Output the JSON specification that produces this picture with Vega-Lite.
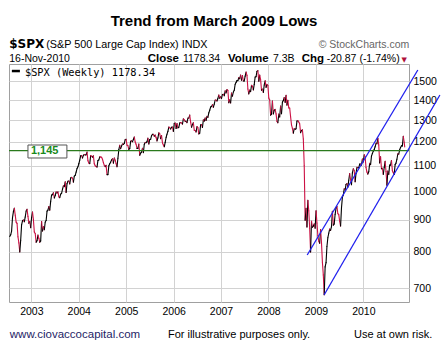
{
  "$schema": "https://vega.github.io/schema/vega-lite/v6.json",
  "width": 400,
  "height": 238,
  "autosize": {"type": "none"},
  "padding": {"left": 9, "top": 64, "right": 39, "bottom": 61},
  "background": "white",
  "title": {"text": "Trend from March 2009 Lows", "font": "Liberation Sans", "fontSize": 15, "fontWeight": "bold", "color": "#000000", "anchor": "middle", "frame": "group", "offset": 9, "dx": 5},
  "config": {
    "view": {"stroke": "#a0a0a0", "strokeWidth": 1},
    "axis": {"titleOpacity": 0, "labelFont": "Liberation Sans", "labelFontSize": 10.5, "labelColor": "#000000", "gridColor": "#d2d2d2", "gridWidth": 1, "ticks": false, "domain": false, "labelOverlap": false, "labelFlush": false}
  },
  "datasets": {
    "spx": [
      {"d":"2002-07-19","c":847},{"d":"2002-07-26","c":852},{"d":"2002-08-02","c":864},{"d":"2002-08-09","c":908},{"d":"2002-08-16","c":928},{"d":"2002-08-23","c":940},{"d":"2002-08-30","c":916},{"d":"2002-09-06","c":893},{"d":"2002-09-13","c":889},{"d":"2002-09-20","c":846},{"d":"2002-09-27","c":827},{"d":"2002-10-04","c":800},{"d":"2002-10-11","c":835},{"d":"2002-10-18","c":884},{"d":"2002-10-25","c":897},{"d":"2002-11-01","c":900},{"d":"2002-11-08","c":894},{"d":"2002-11-15","c":910},{"d":"2002-11-22","c":930},{"d":"2002-11-29","c":936},{"d":"2002-12-06","c":912},{"d":"2002-12-13","c":889},{"d":"2002-12-20","c":895},{"d":"2002-12-27","c":875},
      {"d":"2003-01-03","c":908},{"d":"2003-01-10","c":927},{"d":"2003-01-17","c":901},{"d":"2003-01-24","c":861},{"d":"2003-01-31","c":856},{"d":"2003-02-07","c":829},{"d":"2003-02-14","c":834},{"d":"2003-02-21","c":851},{"d":"2003-02-28","c":841},{"d":"2003-03-07","c":829},{"d":"2003-03-14","c":833},{"d":"2003-03-21","c":895},{"d":"2003-03-28","c":864},{"d":"2003-04-04","c":878},{"d":"2003-04-11","c":868},{"d":"2003-04-18","c":893},{"d":"2003-04-25","c":898},{"d":"2003-05-02","c":930},{"d":"2003-05-09","c":933},{"d":"2003-05-16","c":946},{"d":"2003-05-23","c":933},{"d":"2003-05-30","c":964},{"d":"2003-06-06","c":987},{"d":"2003-06-13","c":988},{"d":"2003-06-20","c":995},{"d":"2003-06-27","c":976},{"d":"2003-07-04","c":985},{"d":"2003-07-11","c":998},{"d":"2003-07-18","c":994},{"d":"2003-07-25","c":998},{"d":"2003-08-01","c":980},{"d":"2003-08-08","c":977},{"d":"2003-08-15","c":990},{"d":"2003-08-22","c":993},{"d":"2003-08-29","c":1008},{"d":"2003-09-05","c":1021},{"d":"2003-09-12","c":1018},{"d":"2003-09-19","c":1036},{"d":"2003-09-26","c":996},{"d":"2003-10-03","c":1029},{"d":"2003-10-10","c":1038},{"d":"2003-10-17","c":1039},{"d":"2003-10-24","c":1028},{"d":"2003-10-31","c":1051},{"d":"2003-11-07","c":1053},{"d":"2003-11-14","c":1050},{"d":"2003-11-21","c":1035},{"d":"2003-11-28","c":1058},{"d":"2003-12-05","c":1061},{"d":"2003-12-12","c":1074},{"d":"2003-12-19","c":1088},{"d":"2003-12-26","c":1095},
      {"d":"2004-01-02","c":1108},{"d":"2004-01-09","c":1122},{"d":"2004-01-16","c":1140},{"d":"2004-01-23","c":1141},{"d":"2004-01-30","c":1131},{"d":"2004-02-06","c":1142},{"d":"2004-02-13","c":1146},{"d":"2004-02-20","c":1144},{"d":"2004-02-27","c":1145},{"d":"2004-03-05","c":1156},{"d":"2004-03-12","c":1120},{"d":"2004-03-19","c":1110},{"d":"2004-03-26","c":1108},{"d":"2004-04-02","c":1141},{"d":"2004-04-09","c":1139},{"d":"2004-04-16","c":1135},{"d":"2004-04-23","c":1140},{"d":"2004-04-30","c":1107},{"d":"2004-05-07","c":1099},{"d":"2004-05-14","c":1096},{"d":"2004-05-21","c":1094},{"d":"2004-05-28","c":1121},{"d":"2004-06-04","c":1123},{"d":"2004-06-11","c":1136},{"d":"2004-06-18","c":1135},{"d":"2004-06-25","c":1134},{"d":"2004-07-02","c":1126},{"d":"2004-07-09","c":1112},{"d":"2004-07-16","c":1101},{"d":"2004-07-23","c":1096},{"d":"2004-07-30","c":1101},{"d":"2004-08-06","c":1064},{"d":"2004-08-13","c":1064},{"d":"2004-08-20","c":1099},{"d":"2004-08-27","c":1107},{"d":"2004-09-03","c":1114},{"d":"2004-09-10","c":1123},{"d":"2004-09-17","c":1128},{"d":"2004-09-24","c":1110},{"d":"2004-10-01","c":1131},{"d":"2004-10-08","c":1122},{"d":"2004-10-15","c":1108},{"d":"2004-10-22","c":1095},{"d":"2004-10-29","c":1130},{"d":"2004-11-05","c":1167},{"d":"2004-11-12","c":1185},{"d":"2004-11-19","c":1171},{"d":"2004-11-26","c":1182},{"d":"2004-12-03","c":1191},{"d":"2004-12-10","c":1189},{"d":"2004-12-17","c":1194},{"d":"2004-12-24","c":1210},{"d":"2004-12-31","c":1212},
      {"d":"2005-01-07","c":1186},{"d":"2005-01-14","c":1184},{"d":"2005-01-21","c":1168},{"d":"2005-01-28","c":1171},{"d":"2005-02-04","c":1203},{"d":"2005-02-11","c":1205},{"d":"2005-02-18","c":1201},{"d":"2005-02-25","c":1211},{"d":"2005-03-04","c":1222},{"d":"2005-03-11","c":1200},{"d":"2005-03-18","c":1190},{"d":"2005-03-25","c":1172},{"d":"2005-04-01","c":1172},{"d":"2005-04-08","c":1191},{"d":"2005-04-15","c":1143},{"d":"2005-04-22","c":1152},{"d":"2005-04-29","c":1156},{"d":"2005-05-06","c":1172},{"d":"2005-05-13","c":1154},{"d":"2005-05-20","c":1190},{"d":"2005-05-27","c":1198},{"d":"2005-06-03","c":1197},{"d":"2005-06-10","c":1201},{"d":"2005-06-17","c":1217},{"d":"2005-06-24","c":1191},{"d":"2005-07-01","c":1211},{"d":"2005-07-08","c":1212},{"d":"2005-07-15","c":1228},{"d":"2005-07-22","c":1234},{"d":"2005-07-29","c":1234},{"d":"2005-08-05","c":1226},{"d":"2005-08-12","c":1231},{"d":"2005-08-19","c":1220},{"d":"2005-08-26","c":1205},{"d":"2005-09-02","c":1218},{"d":"2005-09-09","c":1241},{"d":"2005-09-16","c":1237},{"d":"2005-09-23","c":1215},{"d":"2005-09-30","c":1229},{"d":"2005-10-07","c":1196},{"d":"2005-10-14","c":1187},{"d":"2005-10-21","c":1179},{"d":"2005-10-28","c":1198},{"d":"2005-11-04","c":1220},{"d":"2005-11-11","c":1235},{"d":"2005-11-18","c":1248},{"d":"2005-11-25","c":1268},{"d":"2005-12-02","c":1265},{"d":"2005-12-09","c":1259},{"d":"2005-12-16","c":1267},{"d":"2005-12-23","c":1268},{"d":"2005-12-30","c":1248},
      {"d":"2006-01-06","c":1285},{"d":"2006-01-13","c":1287},{"d":"2006-01-20","c":1261},{"d":"2006-01-27","c":1284},{"d":"2006-02-03","c":1264},{"d":"2006-02-10","c":1267},{"d":"2006-02-17","c":1287},{"d":"2006-02-24","c":1289},{"d":"2006-03-03","c":1287},{"d":"2006-03-10","c":1282},{"d":"2006-03-17","c":1307},{"d":"2006-03-24","c":1302},{"d":"2006-03-31","c":1295},{"d":"2006-04-07","c":1295},{"d":"2006-04-14","c":1289},{"d":"2006-04-21","c":1311},{"d":"2006-04-28","c":1310},{"d":"2006-05-05","c":1325},{"d":"2006-05-12","c":1291},{"d":"2006-05-19","c":1267},{"d":"2006-05-26","c":1280},{"d":"2006-06-02","c":1288},{"d":"2006-06-09","c":1253},{"d":"2006-06-16","c":1252},{"d":"2006-06-23","c":1245},{"d":"2006-06-30","c":1270},{"d":"2006-07-07","c":1265},{"d":"2006-07-14","c":1236},{"d":"2006-07-21","c":1240},{"d":"2006-07-28","c":1278},{"d":"2006-08-04","c":1280},{"d":"2006-08-11","c":1266},{"d":"2006-08-18","c":1302},{"d":"2006-08-25","c":1296},{"d":"2006-09-01","c":1311},{"d":"2006-09-08","c":1299},{"d":"2006-09-15","c":1319},{"d":"2006-09-22","c":1314},{"d":"2006-09-29","c":1336},{"d":"2006-10-06","c":1349},{"d":"2006-10-13","c":1365},{"d":"2006-10-20","c":1368},{"d":"2006-10-27","c":1377},{"d":"2006-11-03","c":1364},{"d":"2006-11-10","c":1380},{"d":"2006-11-17","c":1401},{"d":"2006-11-24","c":1400},{"d":"2006-12-01","c":1396},{"d":"2006-12-08","c":1409},{"d":"2006-12-15","c":1427},{"d":"2006-12-22","c":1410},{"d":"2006-12-29","c":1418},
      {"d":"2007-01-05","c":1409},{"d":"2007-01-12","c":1430},{"d":"2007-01-19","c":1431},{"d":"2007-01-26","c":1423},{"d":"2007-02-02","c":1449},{"d":"2007-02-09","c":1438},{"d":"2007-02-16","c":1456},{"d":"2007-02-23","c":1451},{"d":"2007-03-02","c":1387},{"d":"2007-03-09","c":1402},{"d":"2007-03-16","c":1386},{"d":"2007-03-23","c":1437},{"d":"2007-03-30","c":1421},{"d":"2007-04-06","c":1443},{"d":"2007-04-13","c":1452},{"d":"2007-04-20","c":1485},{"d":"2007-04-27","c":1495},{"d":"2007-05-04","c":1505},{"d":"2007-05-11","c":1505},{"d":"2007-05-18","c":1522},{"d":"2007-05-25","c":1515},{"d":"2007-06-01","c":1536},{"d":"2007-06-08","c":1507},{"d":"2007-06-15","c":1533},{"d":"2007-06-22","c":1503},{"d":"2007-06-29","c":1503},{"d":"2007-07-06","c":1530},{"d":"2007-07-13","c":1553},{"d":"2007-07-20","c":1534},{"d":"2007-07-27","c":1459},{"d":"2007-08-03","c":1433},{"d":"2007-08-10","c":1453},{"d":"2007-08-17","c":1445},{"d":"2007-08-24","c":1479},{"d":"2007-08-31","c":1474},{"d":"2007-09-07","c":1454},{"d":"2007-09-14","c":1484},{"d":"2007-09-21","c":1525},{"d":"2007-09-28","c":1527},{"d":"2007-10-05","c":1557},{"d":"2007-10-12","c":1561},{"d":"2007-10-19","c":1501},{"d":"2007-10-26","c":1536},{"d":"2007-11-02","c":1510},{"d":"2007-11-09","c":1453},{"d":"2007-11-16","c":1458},{"d":"2007-11-23","c":1441},{"d":"2007-11-30","c":1481},{"d":"2007-12-07","c":1504},{"d":"2007-12-14","c":1468},{"d":"2007-12-21","c":1484},{"d":"2007-12-28","c":1478},
      {"d":"2008-01-04","c":1411},{"d":"2008-01-11","c":1401},{"d":"2008-01-18","c":1325},{"d":"2008-01-25","c":1330},{"d":"2008-02-01","c":1396},{"d":"2008-02-08","c":1331},{"d":"2008-02-15","c":1349},{"d":"2008-02-22","c":1353},{"d":"2008-02-29","c":1331},{"d":"2008-03-07","c":1294},{"d":"2008-03-14","c":1288},{"d":"2008-03-21","c":1330},{"d":"2008-03-28","c":1316},{"d":"2008-04-04","c":1370},{"d":"2008-04-11","c":1332},{"d":"2008-04-18","c":1390},{"d":"2008-04-25","c":1398},{"d":"2008-05-02","c":1414},{"d":"2008-05-09","c":1389},{"d":"2008-05-16","c":1426},{"d":"2008-05-23","c":1375},{"d":"2008-05-30","c":1400},{"d":"2008-06-06","c":1361},{"d":"2008-06-13","c":1360},{"d":"2008-06-20","c":1317},{"d":"2008-06-27","c":1278},{"d":"2008-07-04","c":1262},{"d":"2008-07-11","c":1240},{"d":"2008-07-18","c":1261},{"d":"2008-07-25","c":1257},{"d":"2008-08-01","c":1260},{"d":"2008-08-08","c":1296},{"d":"2008-08-15","c":1298},{"d":"2008-08-22","c":1292},{"d":"2008-08-29","c":1283},{"d":"2008-09-05","c":1242},{"d":"2008-09-12","c":1252},{"d":"2008-09-19","c":1255},{"d":"2008-09-26","c":1213},{"d":"2008-10-03","c":1099},{"d":"2008-10-10","c":899},{"d":"2008-10-17","c":940},{"d":"2008-10-24","c":877},{"d":"2008-10-31","c":968},{"d":"2008-11-07","c":931},{"d":"2008-11-14","c":873},{"d":"2008-11-21","c":800},{"d":"2008-11-28","c":896},{"d":"2008-12-05","c":876},{"d":"2008-12-12","c":880},{"d":"2008-12-19","c":887},{"d":"2008-12-26","c":873},
      {"d":"2009-01-02","c":931},{"d":"2009-01-09","c":890},{"d":"2009-01-16","c":850},{"d":"2009-01-23","c":832},{"d":"2009-01-30","c":826},{"d":"2009-02-06","c":869},{"d":"2009-02-13","c":827},{"d":"2009-02-20","c":770},{"d":"2009-02-27","c":735},{"d":"2009-03-06","c":683},{"d":"2009-03-13","c":757},{"d":"2009-03-20","c":769},{"d":"2009-03-27","c":816},{"d":"2009-04-03","c":843},{"d":"2009-04-10","c":857},{"d":"2009-04-17","c":870},{"d":"2009-04-24","c":866},{"d":"2009-05-01","c":878},{"d":"2009-05-08","c":929},{"d":"2009-05-15","c":883},{"d":"2009-05-22","c":887},{"d":"2009-05-29","c":919},{"d":"2009-06-05","c":940},{"d":"2009-06-12","c":946},{"d":"2009-06-19","c":921},{"d":"2009-06-26","c":918},{"d":"2009-07-03","c":896},{"d":"2009-07-10","c":880},{"d":"2009-07-17","c":941},{"d":"2009-07-24","c":979},{"d":"2009-07-31","c":987},{"d":"2009-08-07","c":1010},{"d":"2009-08-14","c":1005},{"d":"2009-08-21","c":1026},{"d":"2009-08-28","c":1029},{"d":"2009-09-04","c":1016},{"d":"2009-09-11","c":1042},{"d":"2009-09-18","c":1068},{"d":"2009-09-25","c":1044},{"d":"2009-10-02","c":1025},{"d":"2009-10-09","c":1071},{"d":"2009-10-16","c":1087},{"d":"2009-10-23","c":1080},{"d":"2009-10-30","c":1036},{"d":"2009-11-06","c":1069},{"d":"2009-11-13","c":1093},{"d":"2009-11-20","c":1091},{"d":"2009-11-27","c":1091},{"d":"2009-12-04","c":1106},{"d":"2009-12-11","c":1106},{"d":"2009-12-18","c":1102},{"d":"2009-12-25","c":1127},
      {"d":"2010-01-01","c":1115},{"d":"2010-01-08","c":1145},{"d":"2010-01-15","c":1136},{"d":"2010-01-22","c":1092},{"d":"2010-01-29","c":1074},{"d":"2010-02-05","c":1066},{"d":"2010-02-12","c":1075},{"d":"2010-02-19","c":1109},{"d":"2010-02-26","c":1104},{"d":"2010-03-05","c":1139},{"d":"2010-03-12","c":1150},{"d":"2010-03-19","c":1160},{"d":"2010-03-26","c":1167},{"d":"2010-04-02","c":1179},{"d":"2010-04-09","c":1194},{"d":"2010-04-16","c":1192},{"d":"2010-04-23","c":1217},{"d":"2010-04-30","c":1187},{"d":"2010-05-07","c":1111},{"d":"2010-05-14","c":1136},{"d":"2010-05-21","c":1087},{"d":"2010-05-28","c":1089},{"d":"2010-06-04","c":1065},{"d":"2010-06-11","c":1092},{"d":"2010-06-18","c":1117},{"d":"2010-06-25","c":1076},{"d":"2010-07-02","c":1023},{"d":"2010-07-09","c":1078},{"d":"2010-07-16","c":1065},{"d":"2010-07-23","c":1102},{"d":"2010-07-30","c":1102},{"d":"2010-08-06","c":1121},{"d":"2010-08-13","c":1079},{"d":"2010-08-20","c":1071},{"d":"2010-08-27","c":1065},{"d":"2010-09-03","c":1104},{"d":"2010-09-10","c":1110},{"d":"2010-09-17","c":1126},{"d":"2010-09-24","c":1149},{"d":"2010-10-01","c":1147},{"d":"2010-10-08","c":1166},{"d":"2010-10-15","c":1176},{"d":"2010-10-22","c":1183},{"d":"2010-10-29","c":1183},{"d":"2010-11-05","c":1225},{"d":"2010-11-12","c":1199},{"d":"2010-11-16","c":1178.34}
    ],
    "trend": [
      {"d1":"2008-10-26","v1":791,"d2":"2011-02-25","v2":1565},
      {"d1":"2009-03-06","v1":683,"d2":"2011-08-14","v2":1427}
    ]
  },
  "layer": [
    {
      "data": {"name": "spx", "format": {"parse": {"d": "date"}}},
      "transform": [
        {"window": [{"op": "lag", "field": "c", "as": "pc"}, {"op": "lag", "field": "d", "as": "pd"}], "sort": [{"field": "d", "order": "ascending"}]},
        {"filter": "datum.pc != null"}
      ],
      "mark": {"type": "rule", "strokeWidth": 1.1, "strokeCap": "round"},
      "encoding": {
        "x": {"field": "pd", "type": "temporal", "title": null,
          "scale": {"domain": [{"year": 2002, "month": 7, "date": 13}, {"year": 2010, "month": 12, "date": 19}], "nice": false},
          "axis": {"values": [
            {"year": 2003, "month": 1, "date": 1}, {"year": 2003, "month": 7, "date": 1},
            {"year": 2004, "month": 1, "date": 1}, {"year": 2004, "month": 7, "date": 1},
            {"year": 2005, "month": 1, "date": 1}, {"year": 2005, "month": 7, "date": 1},
            {"year": 2006, "month": 1, "date": 1}, {"year": 2006, "month": 7, "date": 1},
            {"year": 2007, "month": 1, "date": 1}, {"year": 2007, "month": 7, "date": 1},
            {"year": 2008, "month": 1, "date": 1}, {"year": 2008, "month": 7, "date": 1},
            {"year": 2009, "month": 1, "date": 1}, {"year": 2009, "month": 7, "date": 1},
            {"year": 2010, "month": 1, "date": 1}, {"year": 2010, "month": 7, "date": 1}],
            "labelExpr": "month(datum.value) == 0 ? timeFormat(datum.value, '%Y') : ''",
            "labelPadding": 4, "grid": true}},
        "x2": {"field": "d"},
        "y": {"field": "pc", "type": "quantitative", "title": null,
          "scale": {"type": "log", "domain": [665, 1600], "nice": false},
          "axis": {"orient": "right", "values": [700, 800, 900, 1000, 1100, 1200, 1300, 1400, 1500], "format": "d", "labelPadding": 4, "grid": true}},
        "y2": {"field": "c"},
        "color": {"condition": {"test": "datum.c < datum.pc", "value": "#cc1144"}, "value": "#000000"}
      }
    },
    {
      "data": {"values": [{}]},
      "mark": {"type": "rule", "color": "#2a7a1c", "strokeWidth": 1.2},
      "encoding": {"y": {"datum": 1162, "type": "quantitative"}}
    },
    {
      "data": {"name": "trend", "format": {"parse": {"d1": "date", "d2": "date"}}},
      "mark": {"type": "rule", "color": "#2020ee", "strokeWidth": 1.3},
      "encoding": {
        "x": {"field": "d1", "type": "temporal"},
        "x2": {"field": "d2"},
        "y": {"field": "v1", "type": "quantitative"},
        "y2": {"field": "v2"}
      }
    },
    {
      "data": {"values": [{}]},
      "mark": {"type": "rect", "fill": "#ffffff", "stroke": "#555555", "strokeWidth": 1},
      "encoding": {
        "x": {"datum": {"year": 2002, "month": 12, "date": 6}, "type": "temporal"},
        "x2": {"datum": {"year": 2003, "month": 10, "date": 2}},
        "y": {"datum": 1186.7, "type": "quantitative"},
        "y2": {"datum": 1131.2}
      }
    },
    {
      "data": {"values": [{}]},
      "mark": {"type": "text", "text": "1,145", "font": "Liberation Sans", "fontSize": 11, "fontWeight": "bold", "color": "#1a8a1a", "align": "left", "baseline": "middle"},
      "encoding": {
        "x": {"datum": {"year": 2002, "month": 12, "date": 29}, "type": "temporal"},
        "y": {"datum": 1160, "type": "quantitative"}
      }
    },
    {
      "data": {"values": [{}]},
      "mark": {"type": "rule", "color": "#000000", "strokeWidth": 2.5},
      "encoding": {
        "x": {"datum": {"year": 2002, "month": 8, "date": 4}, "type": "temporal"},
        "x2": {"datum": {"year": 2002, "month": 10, "date": 5}},
        "y": {"datum": 1559, "type": "quantitative"}
      }
    },
    {
      "data": {"values": [{}]},
      "mark": {"type": "text", "text": "$SPX (Weekly) 1178.34", "font": "DejaVu Sans Mono", "fontSize": 10.3, "color": "#000000", "align": "left", "baseline": "alphabetic"},
      "encoding": {
        "x": {"datum": {"year": 2002, "month": 11, "date": 13}, "type": "temporal"},
        "y": {"datum": 1533, "type": "quantitative"}
      }
    },
    {
      "data": {"values": [{}]},
      "mark": {"type": "text", "text": "$SPX", "font": "DejaVu Sans", "fontSize": 12, "fontWeight": "bold", "color": "#000000", "align": "left", "baseline": "alphabetic"},
      "encoding": {
        "x": {"datum": {"year": 2002, "month": 7, "date": 15}, "type": "temporal"},
        "y": {"datum": 1695, "type": "quantitative"}
      }
    },
    {
      "data": {"values": [{}]},
      "mark": {"type": "text", "text": "(S&P 500 Large Cap Index) INDX", "font": "Liberation Sans", "fontSize": 10.8, "color": "#000000", "align": "left", "baseline": "alphabetic"},
      "encoding": {
        "x": {"datum": {"year": 2003, "month": 4, "date": 26}, "type": "temporal"},
        "y": {"datum": 1695, "type": "quantitative"}
      }
    },
    {
      "data": {"values": [{}]},
      "mark": {"type": "text", "text": "© StockCharts.com", "font": "Liberation Sans", "fontSize": 10.5, "color": "#666666", "align": "right", "baseline": "alphabetic"},
      "encoding": {
        "x": {"datum": {"year": 2010, "month": 12, "date": 21}, "type": "temporal"},
        "y": {"datum": 1695, "type": "quantitative"}
      }
    },
    {
      "data": {"values": [{}]},
      "mark": {"type": "text", "text": "16-Nov-2010", "font": "Liberation Sans", "fontSize": 10.5, "color": "#000000", "align": "left", "baseline": "alphabetic"},
      "encoding": {
        "x": {"datum": {"year": 2002, "month": 7, "date": 15}, "type": "temporal"},
        "y": {"datum": 1610, "type": "quantitative"}
      }
    },
    {
      "data": {"values": [{}]},
      "mark": {"type": "text", "text": "Close", "font": "Liberation Sans", "fontSize": 11.5, "fontWeight": "bold", "color": "#000000", "align": "left", "baseline": "alphabetic"},
      "encoding": {
        "x": {"datum": {"year": 2005, "month": 6, "date": 15}, "type": "temporal"},
        "y": {"datum": 1610, "type": "quantitative"}
      }
    },
    {
      "data": {"values": [{}]},
      "mark": {"type": "text", "text": "1178.34", "font": "Liberation Sans", "fontSize": 10.5, "color": "#000000", "align": "left", "baseline": "alphabetic"},
      "encoding": {
        "x": {"datum": {"year": 2006, "month": 3, "date": 14}, "type": "temporal"},
        "y": {"datum": 1610, "type": "quantitative"}
      }
    },
    {
      "data": {"values": [{}]},
      "mark": {"type": "text", "text": "Volume", "font": "Liberation Sans", "fontSize": 11.5, "fontWeight": "bold", "color": "#000000", "align": "left", "baseline": "alphabetic"},
      "encoding": {
        "x": {"datum": {"year": 2007, "month": 2, "date": 23}, "type": "temporal"},
        "y": {"datum": 1610, "type": "quantitative"}
      }
    },
    {
      "data": {"values": [{}]},
      "mark": {"type": "text", "text": "7.3B", "font": "Liberation Sans", "fontSize": 10.5, "color": "#000000", "align": "left", "baseline": "alphabetic"},
      "encoding": {
        "x": {"datum": {"year": 2008, "month": 2, "date": 5}, "type": "temporal"},
        "y": {"datum": 1610, "type": "quantitative"}
      }
    },
    {
      "data": {"values": [{}]},
      "mark": {"type": "text", "text": "Chg", "font": "Liberation Sans", "fontSize": 11.5, "fontWeight": "bold", "color": "#000000", "align": "left", "baseline": "alphabetic"},
      "encoding": {
        "x": {"datum": {"year": 2008, "month": 9, "date": 13}, "type": "temporal"},
        "y": {"datum": 1610, "type": "quantitative"}
      }
    },
    {
      "data": {"values": [{}]},
      "mark": {"type": "text", "text": "-20.87 (-1.74%)", "font": "Liberation Sans", "fontSize": 10.5, "color": "#000000", "align": "left", "baseline": "alphabetic"},
      "encoding": {
        "x": {"datum": {"year": 2009, "month": 3, "date": 25}, "type": "temporal"},
        "y": {"datum": 1610, "type": "quantitative"}
      }
    },
    {
      "data": {"values": [{}]},
      "mark": {"type": "text", "text": "▼", "font": "DejaVu Sans", "fontSize": 7, "color": "#b0103a", "align": "left", "baseline": "alphabetic"},
      "encoding": {
        "x": {"datum": {"year": 2010, "month": 10, "date": 23}, "type": "temporal"},
        "y": {"datum": 1612, "type": "quantitative"}
      }
    },
    {
      "data": {"values": [{}]},
      "mark": {"type": "text", "text": "www.ciovaccocapital.com", "font": "Liberation Sans", "fontSize": 11.5, "color": "#1e1e66", "align": "left", "baseline": "alphabetic"},
      "encoding": {
        "x": {"datum": {"year": 2002, "month": 7, "date": 19}, "type": "temporal"},
        "y": {"datum": 581.8, "type": "quantitative"}
      }
    },
    {
      "data": {"values": [{}]},
      "mark": {"type": "text", "text": "For illustrative purposes only.", "font": "Liberation Sans", "fontSize": 11, "color": "#000000", "align": "left", "baseline": "alphabetic"},
      "encoding": {
        "x": {"datum": {"year": 2005, "month": 11, "date": 18}, "type": "temporal"},
        "y": {"datum": 581.8, "type": "quantitative"}
      }
    },
    {
      "data": {"values": [{}]},
      "mark": {"type": "text", "text": "Use at own risk.", "font": "Liberation Sans", "fontSize": 11, "color": "#000000", "align": "left", "baseline": "alphabetic"},
      "encoding": {
        "x": {"datum": {"year": 2009, "month": 10, "date": 21}, "type": "temporal"},
        "y": {"datum": 581.8, "type": "quantitative"}
      }
    }
  ]
}
